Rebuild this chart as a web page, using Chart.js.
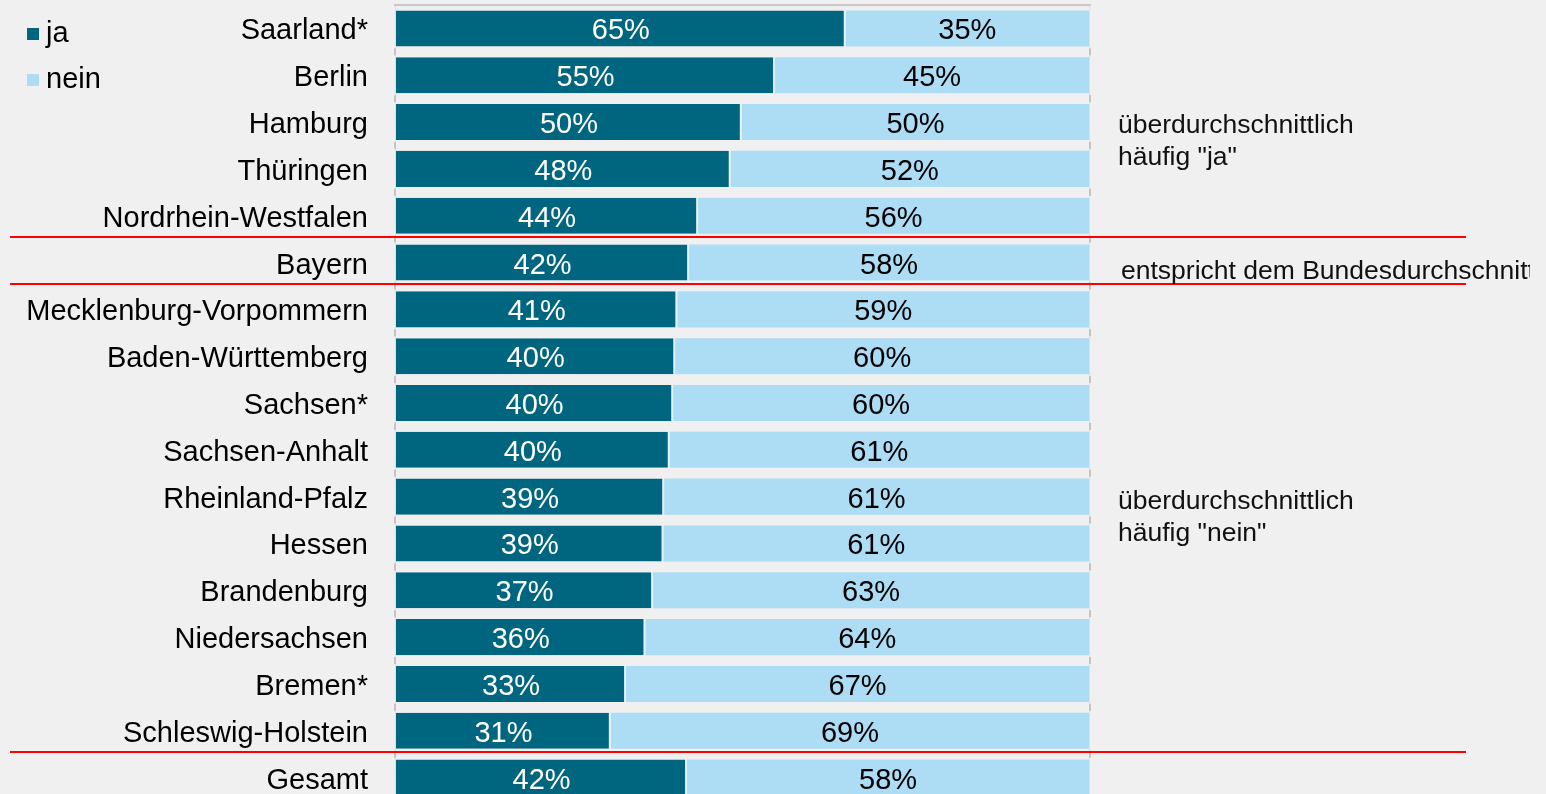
<!DOCTYPE html>
<html lang="de">
<head>
<meta charset="utf-8">
<title>Zustimmung nach Bundesland</title>
<script src="https://cdn.jsdelivr.net/npm/chart.js@4.4.1/dist/chart.umd.min.js"></script>
<style>
  html, body { margin: 0; padding: 0; background: #f0f0f0; overflow: hidden; }
  #wrap { width: 1546px; height: 794px; overflow: hidden; }
  canvas { display: block; }
</style>
</head>
<body>
<div id="wrap"><canvas id="grafik" width="1546" height="801"></canvas></div>
<script>
const bundeslaender = [
  "Saarland*", "Berlin", "Hamburg", "Thüringen", "Nordrhein-Westfalen",
  "Bayern", "Mecklenburg-Vorpommern", "Baden-Württemberg", "Sachsen*",
  "Sachsen-Anhalt", "Rheinland-Pfalz", "Hessen", "Brandenburg",
  "Niedersachsen", "Bremen*", "Schleswig-Holstein", "Gesamt"
];

const anteilJa = [64.9, 54.7, 49.9, 48.3, 43.6, 42.3, 40.6, 40.3, 40.0, 39.5, 38.7, 38.6, 37.1, 36.0, 33.2, 31.0, 42.0];
const anteilNein = [35.1, 45.3, 50.1, 51.7, 56.4, 57.7, 59.4, 59.7, 60.0, 60.5, 61.3, 61.4, 62.9, 64.0, 66.8, 69.0, 58.0];

// rote Trennlinien jeweils unter diesen Zeilen
const trennNach = [4, 5, 15];

const hinweise = [
  { zeile: 2, zeilen: ["überdurchschnittlich", "häufig \"ja\""], dx: 0, dy: 4 },
  { zeile: 5, zeilen: ["entspricht dem Bundesdurchschnitt"], dx: 3, dy: 9 },
  { zeile: 10, zeilen: ["überdurchschnittlich", "häufig \"nein\""], dx: 0, dy: 5 }
];

const farbeJa = "#00667f";
const farbeNein = "#addcf5";
const schrift = "'Liberation Sans', Arial, sans-serif";

const rahmen = {
  id: "rahmen",
  beforeDatasetsDraw(chart) {
    const { ctx, chartArea: a, scales: { y } } = chart;
    ctx.save();
    // seitliche Linien hell, oben etwas dunkler
    ctx.strokeStyle = "#e0e0e0";
    ctx.lineWidth = 1;
    ctx.beginPath();
    ctx.moveTo(a.left - 0.5, a.top);
    ctx.lineTo(a.left - 0.5, a.bottom);
    ctx.moveTo(a.right + 0.5, a.top);
    ctx.lineTo(a.right + 0.5, a.bottom);
    ctx.stroke();
    ctx.strokeStyle = "#c8c8c8";
    ctx.lineWidth = 2;
    ctx.beginPath();
    ctx.moveTo(a.left - 2, a.top);
    ctx.lineTo(a.right + 2, a.top);
    ctx.stroke();
    // kleine Striche zwischen den Kategorien
    ctx.fillStyle = "#c4c4c4";
    for (let i = 0; i < bundeslaender.length - 1; i++) {
      const yy = (y.getPixelForValue(i) + y.getPixelForValue(i + 1)) / 2;
      ctx.fillRect(a.left - 2, yy - 3.5, 2, 7);
      ctx.fillRect(a.right, yy - 3.5, 2, 7);
    }
    ctx.restore();
  }
};

const werte = {
  id: "werte",
  afterDatasetsDraw(chart) {
    const ctx = chart.ctx;
    ctx.save();
    ctx.font = "29px " + schrift;
    ctx.textAlign = "center";
    ctx.textBaseline = "middle";
    chart.data.datasets.forEach((ds, i) => {
      ctx.fillStyle = i === 0 ? "#ffffff" : "#000000";
      chart.getDatasetMeta(i).data.forEach((bar, j) => {
        const x = (bar.base + bar.x) / 2;
        ctx.fillText(Math.round(ds.data[j]) + "%", x, bar.y + 3);
      });
    });
    ctx.restore();
  }
};

const extras = {
  id: "extras",
  afterDraw(chart) {
    const { ctx, scales: { y } } = chart;
    ctx.save();

    // Trennlinien
    ctx.strokeStyle = "#ff0000";
    ctx.lineWidth = 2;
    trennNach.forEach(i => {
      const yy = Math.round((y.getPixelForValue(i) + y.getPixelForValue(i + 1)) / 2) - 2;
      ctx.beginPath();
      ctx.moveTo(10, yy);
      ctx.lineTo(1466, yy);
      ctx.stroke();
    });

    // Legende oben links
    ctx.font = "29px " + schrift;
    ctx.textBaseline = "middle";
    ctx.textAlign = "left";
    chart.data.datasets.forEach((ds, i) => {
      const yy = 34 + i * 46;
      ctx.fillStyle = ds.backgroundColor;
      ctx.fillRect(27, yy - 6, 12, 12);
      ctx.fillStyle = "#000000";
      ctx.fillText(ds.label, 46, yy);
    });

    // Hinweise rechts
    ctx.beginPath();
    ctx.rect(0, 0, 1530, chart.height);
    ctx.clip();
    ctx.font = "26.5px " + schrift;
    ctx.fillStyle = "#111111";
    hinweise.forEach(h => {
      const y0 = y.getPixelForValue(h.zeile) + h.dy;
      h.zeilen.forEach((t, k) => {
        ctx.fillText(t, 1118 + h.dx, y0 + k * 32);
      });
    });
    ctx.restore();
  }
};

new Chart(document.getElementById("grafik"), {
  type: "bar",
  data: {
    labels: bundeslaender,
    datasets: [
      {
        label: "ja",
        data: anteilJa,
        backgroundColor: farbeJa,
        borderColor: "#e4f1f8",
        borderWidth: { top: 0, right: 2, bottom: 0, left: 0 },
        borderSkipped: false,
        barPercentage: 0.77,
        categoryPercentage: 1
      },
      {
        label: "nein",
        data: anteilNein,
        backgroundColor: farbeNein,
        borderWidth: 0,
        barPercentage: 0.77,
        categoryPercentage: 1
      }
    ]
  },
  options: {
    indexAxis: "y",
    responsive: false,
    animation: false,
    layout: { padding: { top: 5, right: 457, bottom: 0, left: 0 } },
    scales: {
      x: { stacked: true, min: 0, max: 100, display: false },
      y: {
        stacked: true,
        grid: { display: false, drawTicks: false },
        border: { display: false },
        ticks: { color: "#000000", font: { size: 29, family: schrift }, padding: 28, labelOffset: 3 },
        afterFit(scale) {
          // feste Breite, keine Zusatzränder oben/unten
          scale.width = 396;
          scale.paddingTop = 0;
          scale.paddingBottom = 0;
        }
      }
    },
    plugins: { legend: { display: false }, tooltip: { enabled: false } }
  },
  plugins: [rahmen, werte, extras]
});
</script>
</body>
</html>
